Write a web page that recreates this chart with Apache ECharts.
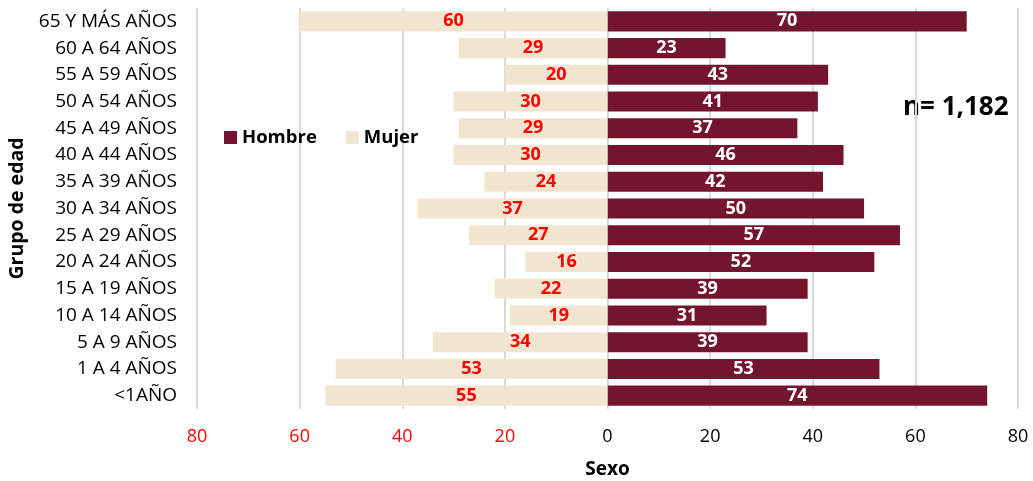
<!DOCTYPE html>
<html><head><meta charset="utf-8">
<script src="https://cdn.jsdelivr.net/npm/echarts@6/dist/echarts.min.js"></script>
<style>html,body{margin:0;padding:0;background:#fff}#c{width:1033px;height:481px}</style>
</head><body><div id="c"></div>
<script>
const categories = ['65 Y MÁS AÑOS','60 A 64 AÑOS','55 A 59 AÑOS','50 A 54 AÑOS','45 A 49 AÑOS','40 A 44 AÑOS','35 A 39 AÑOS','30 A 34 AÑOS','25 A 29 AÑOS','20 A 24 AÑOS','15 A 19 AÑOS','10 A 14 AÑOS','5 A 9 AÑOS','1 A 4 AÑOS','<1AÑO'];
const hombre = [70,23,43,41,37,46,42,50,57,52,39,31,39,53,74];
const mujer = [60,29,20,30,29,30,24,37,27,16,22,19,34,53,55];
const totalLabel = 'n= 1,182';

const font = '"Open Sans", sans-serif';
const chart = echarts.init(document.getElementById('c'), null, {renderer:'canvas'});
chart.setOption({
  animation:false,
  textStyle:{fontFamily:font},
  grid:{left:197,right:15,top:8,bottom:72,containLabel:false,outerBoundsMode:'none'},
  legend:{
    data:['Hombre','Mujer'], left:219, top:123, itemWidth:13, itemHeight:13, itemGap:29,
    icon:'rect',
    textStyle:{fontFamily:font,fontWeight:'bold',fontSize:18.5,color:'#000'}
  },
  xAxis:{
    type:'value', min:-80, max:80, interval:20,
    name:'Sexo', nameLocation:'middle', nameGap:51,
    nameTextStyle:{fontFamily:font,fontWeight:'bold',fontSize:19,color:'#000'},
    axisLine:{show:false}, axisTick:{show:false},
    splitLine:{show:true,lineStyle:{color:'#d9d9d9',width:2}},
    axisLabel:{
      fontFamily:font,fontSize:18,margin:19,
      formatter:v=>String(Math.abs(v)),
      color:(v)=> (Number(v)<0 ? '#ff0000' : '#000')
    }
  },
  yAxis:{
    type:'category', data:categories, inverse:true,
    name:'Grupo de edad', nameLocation:'middle', nameGap:167, nameRotate:90,
    nameTextStyle:{fontFamily:font,fontWeight:'bold',fontSize:19.5,color:'#000'},
    axisLine:{show:false}, axisTick:{show:false},
    axisLabel:{fontFamily:font,fontSize:19,color:'#000',margin:20}
  },
  series:[
    {name:'Hombre', type:'bar', stack:'t', data:hombre, barCategoryGap:'25%',
     itemStyle:{color:'#74152f'},
     label:{show:true,position:'inside',color:'#fff',fontWeight:'bold',fontSize:18,fontFamily:font}},
    {name:'Mujer', type:'bar', stack:'t', data:mujer.map(v=>-v), barCategoryGap:'25%',
     itemStyle:{color:'#f2e5d0'},
     label:{show:true,position:'inside',color:'#ff0000',fontWeight:'bold',fontSize:18,fontFamily:font,
            formatter:p=>String(Math.abs(p.value))}}
  ],
  graphic:[{type:'text', x:903, y:108, style:{text:totalLabel, fontFamily:font, fontWeight:'bold', fontSize:26, fill:'#000', textAlign:'left', textVerticalAlign:'middle'}}]
});
</script></body></html>
